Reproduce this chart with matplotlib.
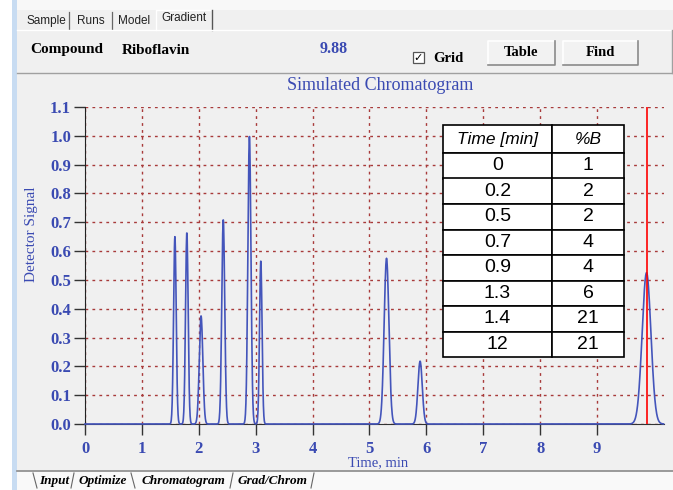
import numpy as np
import matplotlib.pyplot as plt
from matplotlib.patches import Rectangle

# ===== data =====
retention = [1.58, 1.79, 2.04, 2.43, 2.89, 3.09, 5.30, 5.89, 9.87]
heights   = [0.65, 0.665, 0.375, 0.71, 1.00, 0.567, 0.575, 0.218, 0.525]
sigmas    = [0.023, 0.023, 0.031, 0.026, 0.027, 0.022, 0.042, 0.038, 0.077]
marker_t  = 9.88

grad_time = ["0", "0.2", "0.5", "0.7", "0.9", "1.3", "1.4", "12"]
grad_b    = ["1", "2", "2", "4", "4", "6", "21", "21"]

x_ticks = list(range(10))
y_ticks = [round(0.1 * i, 1) for i in range(12)]

BLUE = '#3a4ab2'
LINE = '#4455bb'
GRID = '#a83a3a'
SERIF = 'Liberation Serif'
SANS = 'Liberation Sans'

W, H = 673, 490
fig = plt.figure(figsize=(W / 100, H / 100), dpi=100)
fig.patch.set_facecolor('#f0f0f0')

# background "window" drawn in pixel coords
bg = fig.add_axes([0, 0, 1, 1])
bg.set_xlim(0, W); bg.set_ylim(H, 0); bg.axis('off')

bg.add_patch(Rectangle((0, 0), 12, H, color='white', lw=0))
bg.add_patch(Rectangle((12, 0), 5, H, color='#c8dcf2', lw=0))
bg.add_patch(Rectangle((17, 0), W, 10, color='#f8f8f8', lw=0))

# top tabs
for x, lab in [(46, 'Sample'), (91, 'Runs'), (134, 'Model')]:
    bg.text(x, 21, lab, ha='center', va='center', fontsize=8.5, family=SANS, color='#222222')
for x in (69, 112):
    bg.plot([x, x], [12, 29], color='#666666', lw=0.9)
bg.plot([156, 156, 212, 212], [30, 10, 10, 30], color='white', lw=1)
bg.plot([212, 212], [10, 30], color='#555555', lw=1)
bg.text(184, 18, 'Gradient', ha='center', va='center', fontsize=8.5, family=SANS, color='#222222')

# top panel
bg.plot([17, 672], [30, 30], color='white', lw=1)
bg.plot([17, 672], [73, 73], color='#a0a0a0', lw=1)
bg.plot([672, 672], [30, 73], color='#a0a0a0', lw=1)
bg.text(30, 50, 'Compound', ha='left', va='center', fontsize=11, family=SERIF, weight='bold')
bg.text(122, 50, 'Riboflavin', ha='left', va='center', fontsize=11, family=SERIF, weight='bold')
bg.text(320, 49, '9.88', ha='left', va='center', fontsize=11.5, family=SERIF, weight='bold', color=BLUE)
bg.add_patch(Rectangle((413, 52), 11, 11, facecolor='white', edgecolor='#555555', lw=0.9))
bg.text(418.5, 57.5, '\u2713', ha='center', va='center', fontsize=8, family='DejaVu Sans', weight='bold')
bg.text(433, 58, 'Grid', ha='left', va='center', fontsize=10.5, family=SERIF, weight='bold')
for x0, x1, lab in [(488, 555, 'Table'), (563, 638, 'Find')]:
    bg.add_patch(Rectangle((x0, 41), x1 - x0, 24, facecolor='#f2f2f2', edgecolor='none'))
    bg.plot([x0, x0, x1], [65, 41, 41], color='white', lw=1.2)
    bg.plot([x0, x1, x1], [65, 65, 41], color='#8a8a8a', lw=1.2)
    bg.text((x0 + x1) / 2, 53, lab, ha='center', va='center', fontsize=10.5, family=SERIF, weight='bold')

bg.text(380, 85, 'Simulated Chromatogram', ha='center', va='center', fontsize=13, family=SERIF, color=BLUE)
bg.text(32, 234, 'Detector Signal', ha='center', va='center', rotation=90, fontsize=11, family=SERIF, color=BLUE)
bg.text(378, 463, 'Time, min', ha='center', va='center', fontsize=10.5, family=SERIF, color=BLUE)

# bottom tabs
bg.add_patch(Rectangle((17, 471), W, 19, color='#f9f9f9', lw=0))
bg.plot([17, W], [470.5, 470.5], color='#8a8a8a', lw=1.2)
for x, lab in [(54, 'Input'), (103, 'Optimize'), (183, 'Chromatogram'), (272, 'Grad/Chrom')]:
    bg.text(x, 481, lab, ha='center', va='center', fontsize=9.5, family=SERIF, weight='bold', style='italic')
for xa, xb in [(33, 37), (74, 71), (131, 135), (233, 230), (314, 311)]:
    bg.plot([xa, xb], [473, 488], color='#666666', lw=0.8)

# chromatogram axes
ax_left, ax_right, ax_bot, ax_top = 85, 663.6, 424, 107
ax = fig.add_axes([ax_left / W, 1 - ax_bot / H, (ax_right - ax_left) / W, (ax_bot - ax_top) / H])
ax.set_facecolor('none')
ax.set_xlim(0, 10.17)
ax.set_ylim(0, 1.1)

t = np.arange(0, 10.17, 0.004)
signal = np.zeros_like(t)
for rt, h, s in zip(retention, heights, sigmas):
    signal += h * np.exp(-0.5 * ((t - rt) / s) ** 2)

ax.grid(True, color=GRID, linestyle=(0, (2, 3)), lw=1)
ax.set_axisbelow(True)
ax.plot(t, signal, color=LINE, lw=1.2, clip_on=False, zorder=3)
ax.axvline(marker_t, color='red', lw=1.2, zorder=4)

for sp in ('top', 'right'):
    ax.spines[sp].set_visible(False)
ax.spines['left'].set_color('#222222')
ax.spines['bottom'].set_color('#333333')

ax.set_xticks(x_ticks)
ax.set_yticks(y_ticks)
ax.set_yticklabels([f'{v:.1f}' for v in y_ticks])
ax.tick_params(axis='both', length=8, width=1, color='#333333', labelcolor=BLUE, labelsize=12)
ax.tick_params(axis='y', pad=2)
ax.tick_params(axis='x', pad=4)
for lab in ax.get_xticklabels() + ax.get_yticklabels():
    lab.set_family(SERIF)
    lab.set_weight('bold')

# gradient table
tbl = ax.table(cellText=[[a, b] for a, b in zip(grad_time, grad_b)],
               colLabels=['Time [min]', '%B'],
               colWidths=[109 / 181, 72 / 181],
               cellLoc='center',
               bbox=[(443 - ax_left) / (ax_right - ax_left), (ax_bot - 357) / (ax_bot - ax_top),
                     181 / (ax_right - ax_left), 232 / (ax_bot - ax_top)])
tbl.auto_set_font_size(False)
tbl.set_fontsize(14)
tbl.set_zorder(10)
for (r, c), cell in tbl.get_celld().items():
    cell.set_facecolor('white')
    cell.set_edgecolor('black')
    cell.set_linewidth(1.2)
    cell.set_height(28 if r == 0 else 25.5)
    cell.get_text().set_family(SANS)
    if r == 0:
        cell.get_text().set_style('italic')
        cell.get_text().set_fontsize(12.5)

fig.savefig('out.png', dpi=100, facecolor=fig.get_facecolor())
